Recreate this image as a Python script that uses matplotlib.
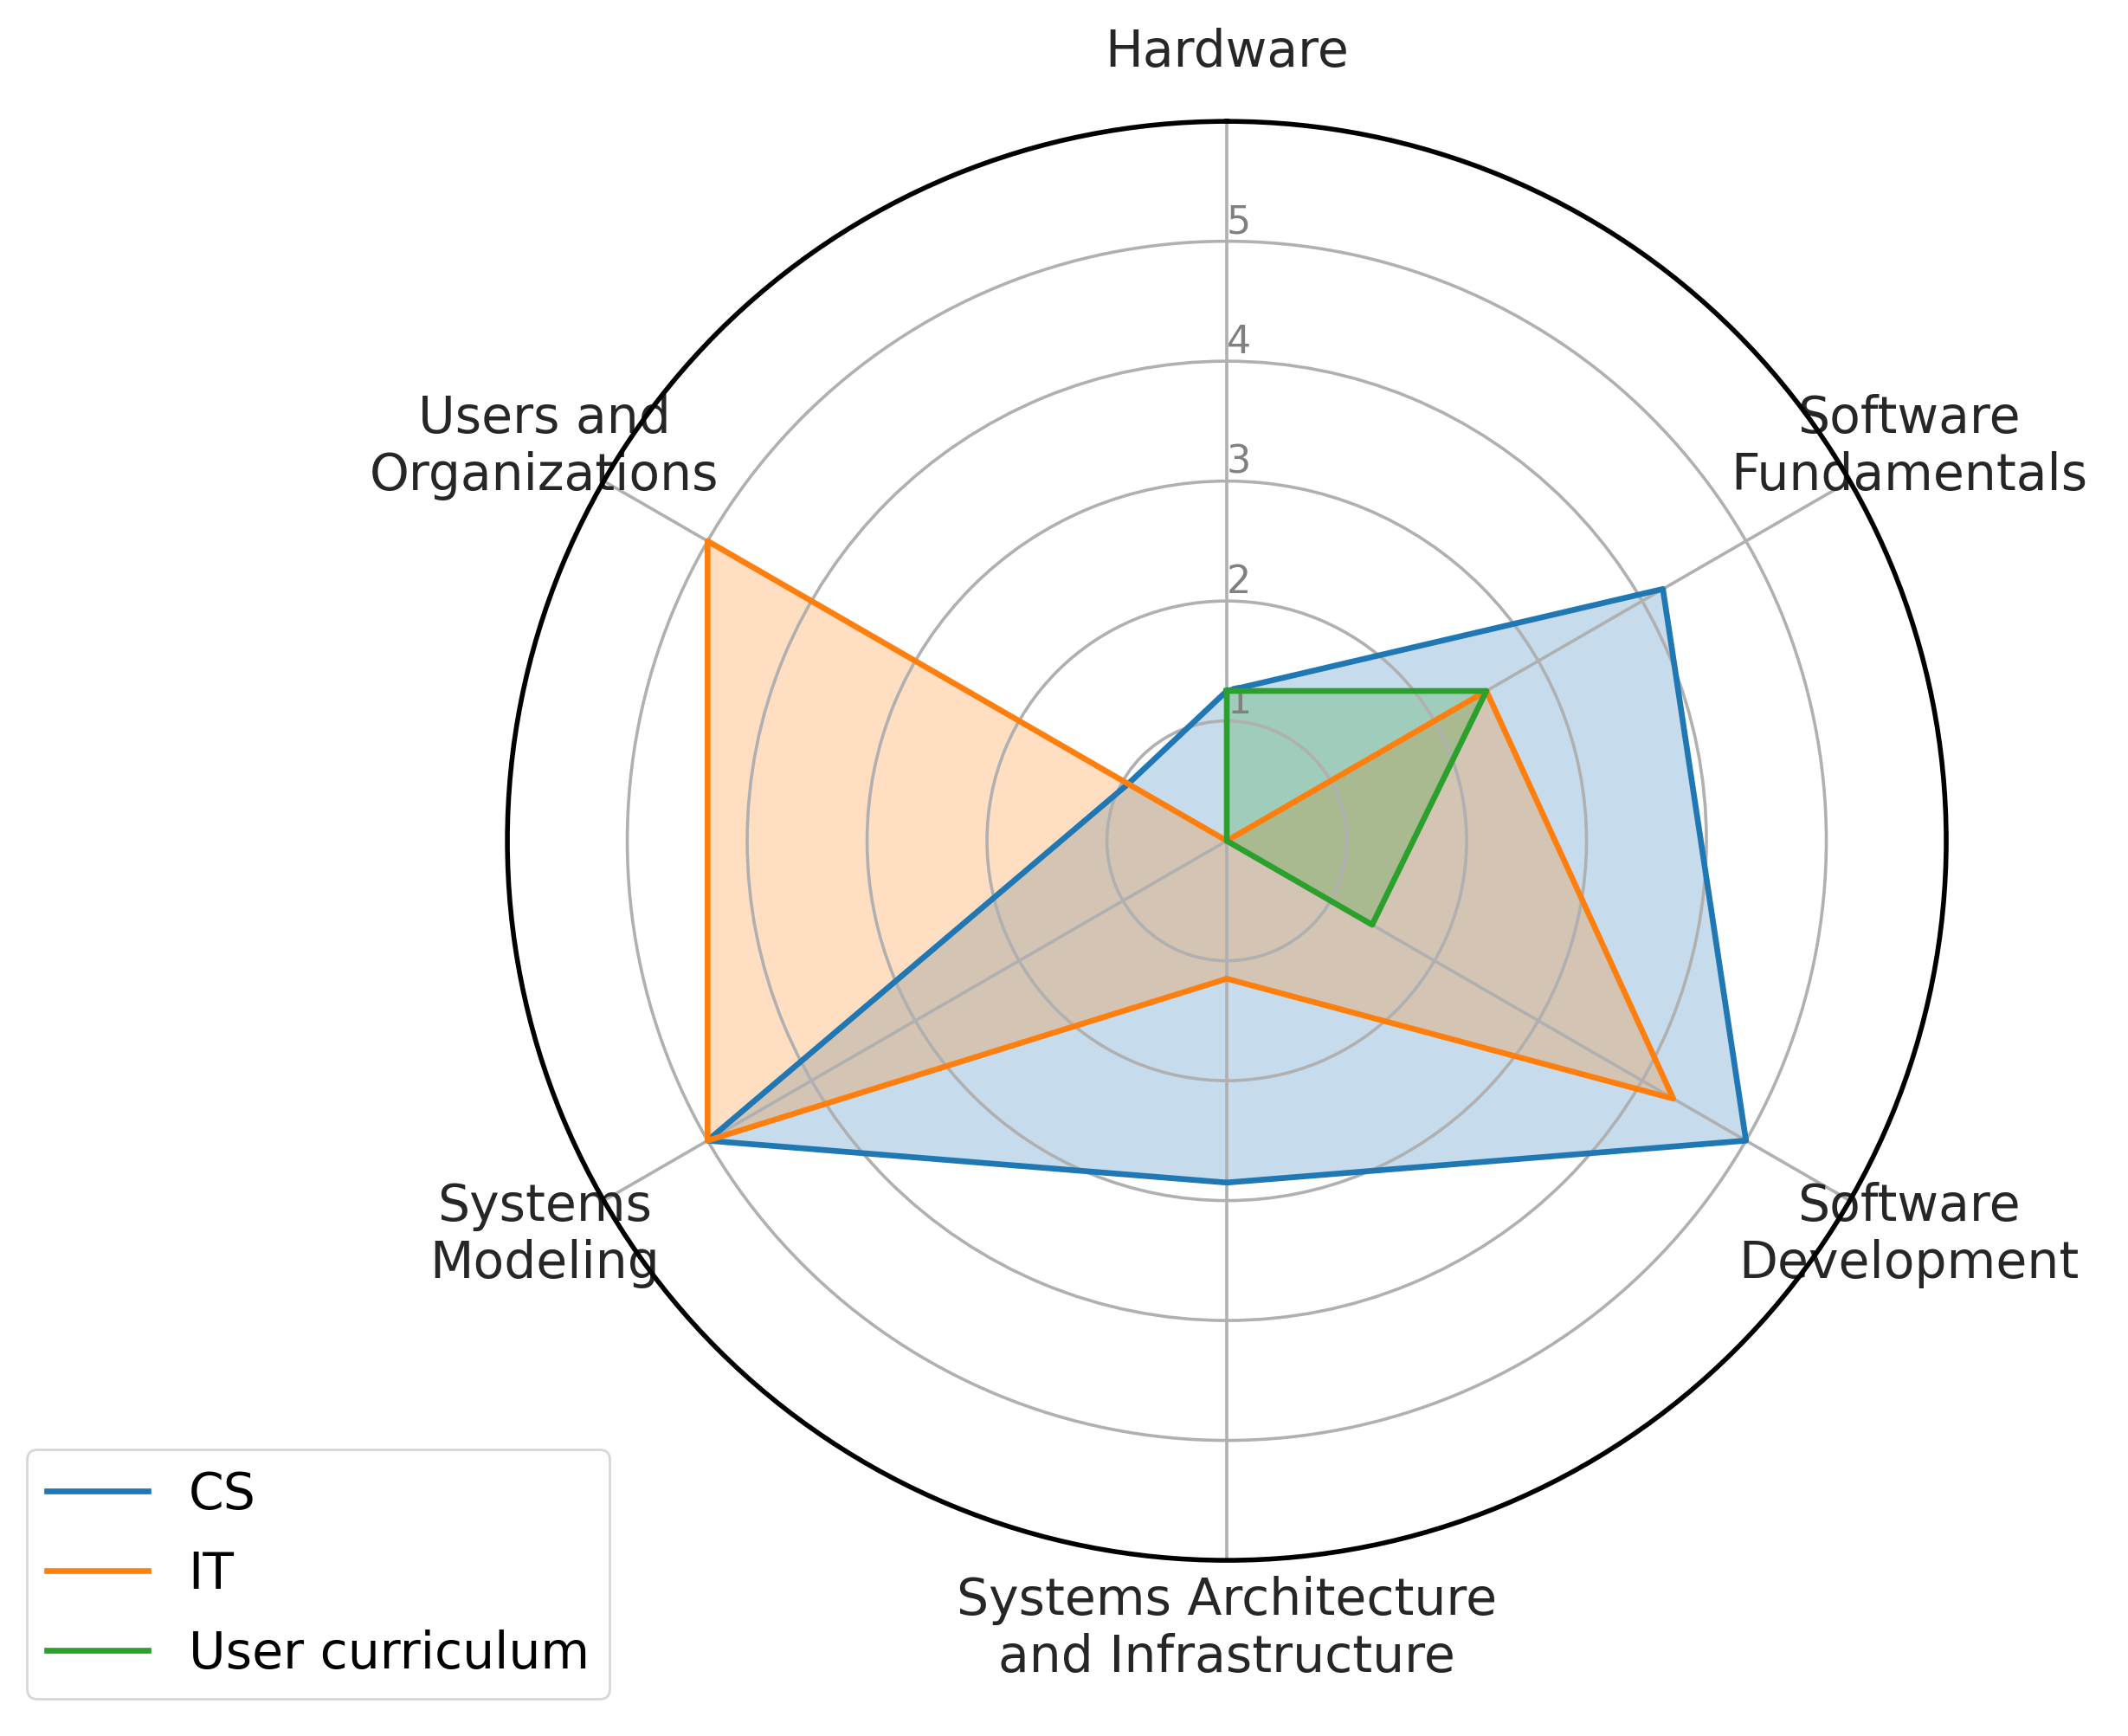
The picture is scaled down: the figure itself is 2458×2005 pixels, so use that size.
import matplotlib
matplotlib.use("Agg")
import matplotlib.pyplot as plt
import numpy as np

categories = ["Hardware", "Software\nFundamentals", "Software\nDevelopment",
              "Systems Architecture\nand Infrastructure", "Systems\nModeling",
              "Users and\nOrganizations"]
cs = [1.25, 4.2, 5.0, 2.85, 5.0, 0.95]
it = [0.0, 2.5, 4.3, 1.15, 5.0, 5.0]
user = [1.25, 2.5, 1.4, 0.0, 0.0, 0.0]
series = [("CS", cs, "#1f77b4"), ("IT", it, "#ff7f0e"), ("User curriculum", user, "#2ca02c")]
rticks = [1, 2, 3, 4, 5]

n = len(categories)
angles = [i / float(n) * 2 * np.pi for i in range(n)]
angles += angles[:1]

fig = plt.figure(figsize=(12.29, 10.025), dpi=200)
ax = fig.add_axes([0.2384, 0.1012, 0.6762, 0.8289], polar=True)
ax.set_theta_offset(np.pi / 2)
ax.set_theta_direction(-1)

ax.set_xticks(angles[:-1])
ax.set_xticklabels(categories, fontsize=21, color="#262626")
ax.tick_params(axis="x", pad=18)
ax.set_rlabel_position(0)
ax.set_yticks(rticks)
ax.set_yticklabels([str(t) for t in rticks], color="grey", fontsize=16)
ax.set_ylim(0, 6)
ax.grid(color="#b0b0b0", linewidth=1.3)
ax.spines["polar"].set_linewidth(2.0)

for name, vals, col in series:
    v = vals + vals[:1]
    ax.plot(angles, v, color=col, linewidth=2.4, label=name)
    ax.fill(angles, v, color=col, alpha=0.25)

fig.legend(loc="upper left", bbox_to_anchor=(0.0126, 0.165), borderaxespad=0,
           fontsize=21, handlelength=2.0, labelspacing=0.6)

fig.savefig("out.png", dpi=200)
